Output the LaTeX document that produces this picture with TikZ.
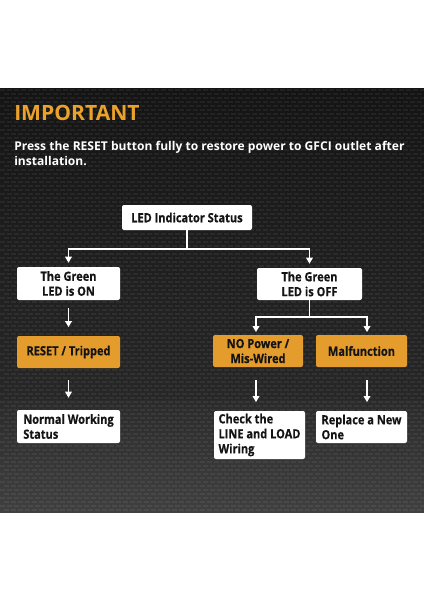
\documentclass[tikz,border=0pt]{standalone}
\usepackage{fontspec}
\setmainfont{Open Sans}
\newfontfamily\boxfont[FakeStretch=0.87,FakeBold=0.4]{Open Sans}
\usetikzlibrary{arrows.meta}
\definecolor{orangebox}{HTML}{E49C2C}
\definecolor{titleorange}{HTML}{EBA22A}
\definecolor{boxtext}{HTML}{141414}
\definecolor{bgtop}{HTML}{141414}
\definecolor{bgbot}{HTML}{2E2E2E}
\tikzset{
  basebox/.style={rectangle, rounded corners=1.5pt, inner sep=0pt, align=center,
    font=\boxfont\bfseries\fontsize{9.5}{11.2}\selectfont, text=boxtext},
  whitebox/.style={basebox, fill=white},
  orangefill/.style={basebox, fill=orangebox},
  flow/.style={draw=white, line width=0.9pt},
  flowarrow/.style={flow, -{Triangle[length=4.5pt,width=5pt]}},
}
\begin{document}
\begin{tikzpicture}[x=0.75pt,y=-0.75pt]
\useasboundingbox (0,0) rectangle (424,600);
\fill[white] (0,0) rectangle (424,600);
% dark carbon panel
\shade[top color=bgtop, bottom color=bgbot] (0,88) rectangle (424,512);
\begin{scope}
\clip (0,88) rectangle (424,512);
\shade[top color=bgbot, bottom color=white!30!black, opacity=0.6] (0,400) rectangle (424,512);
\foreach \r in {0,...,105} {
  \pgfmathsetmacro{\yy}{88+\r*4}
  \pgfmathsetmacro{\off}{mod(\r,2)*3.5}
  \foreach \c in {0,...,61} {
    \fill[white, opacity=0.06] (\c*7+\off,\yy+1) rectangle ++(5,2);
  }
}
\end{scope}
% title texts
\node[anchor=base west, inner sep=0pt, text=titleorange, font=\bfseries\fontsize{15.8}{18}\selectfont] (title) at (14,120) {IMPORTANT};
\node[anchor=base west, inner sep=0pt, text=white, font=\bfseries\fontsize{9.05}{11}\selectfont] (sub1) at (14,150) {Press the RESET button fully to restore power to GFCI outlet after};
\node[anchor=base west, inner sep=0pt, text=white, font=\bfseries\fontsize{9.05}{11}\selectfont] (sub2) at (14,165) {installation.};
% boxes
\node[whitebox, minimum width=97.5pt, minimum height=18.75pt] (top) at (187,217.5) {LED Indicator Status};
\node[whitebox, minimum width=77.25pt, minimum height=24.75pt] (on) at (68.5,283.5) {The Green\\LED is ON};
\node[whitebox, minimum width=78.75pt, minimum height=24pt] (off) at (309.5,284) {The Green\\LED is OFF};
\node[orangefill, minimum width=77.25pt, minimum height=24pt] (reset) at (68.5,352) {RESET / Tripped};
\node[whitebox, minimum width=77.25pt, minimum height=24.75pt, align=left] (normal) at (68.5,426.5) {Normal Working\\Status};
\node[orangefill, minimum width=67.5pt, minimum height=24pt] (nopower) at (258,351) {NO Power /\\Mis-Wired};
\node[orangefill, minimum width=68.25pt, minimum height=24pt] (malf) at (361.5,351) {Malfunction};
\node[whitebox, minimum width=68.25pt, minimum height=36pt, align=left] (check) at (259.5,435) {Check the\\LINE and LOAD\\Wiring};
\node[whitebox, minimum width=68.25pt, minimum height=24pt, align=left] (replace) at (361.5,427) {Replace a New\\One};
% connectors
\coordinate (j1) at (187,249);
\coordinate (j1l) at (68.5,249);
\coordinate (j1r) at (309.5,249);
\draw[flow] (top.south) -- (j1);
\draw[flowarrow] (j1) -- (j1l) -- ([yshift=3pt]on.north);
\draw[flowarrow] (j1) -- (j1r) -- ([yshift=3pt]off.north);
\draw[flowarrow, shorten <=6pt, shorten >=6.5pt] (on.south) -- (reset.north);
\draw[flowarrow, shorten <=9pt, shorten >=9pt] (reset.south) -- (normal.north);
\coordinate (j2) at (309.5,317);
\coordinate (j2l) at (256,317);
\coordinate (j2r) at (367,317);
\draw[flow] (off.south) -- (j2);
\draw[flowarrow] (j2) -- (j2l) -- ([yshift=2pt]nopower.north -| j2l);
\draw[flowarrow] (j2) -- (j2r) -- ([yshift=2pt]malf.north -| j2r);
\draw[flowarrow, shorten <=9.5pt, shorten >=6.5pt] (nopower.south -| j2l) -- (check.north -| j2l);
\draw[flowarrow, shorten <=9.5pt, shorten >=6.5pt] (malf.south -| j2r) -- (replace.north -| j2r);
\end{tikzpicture}
\end{document}
